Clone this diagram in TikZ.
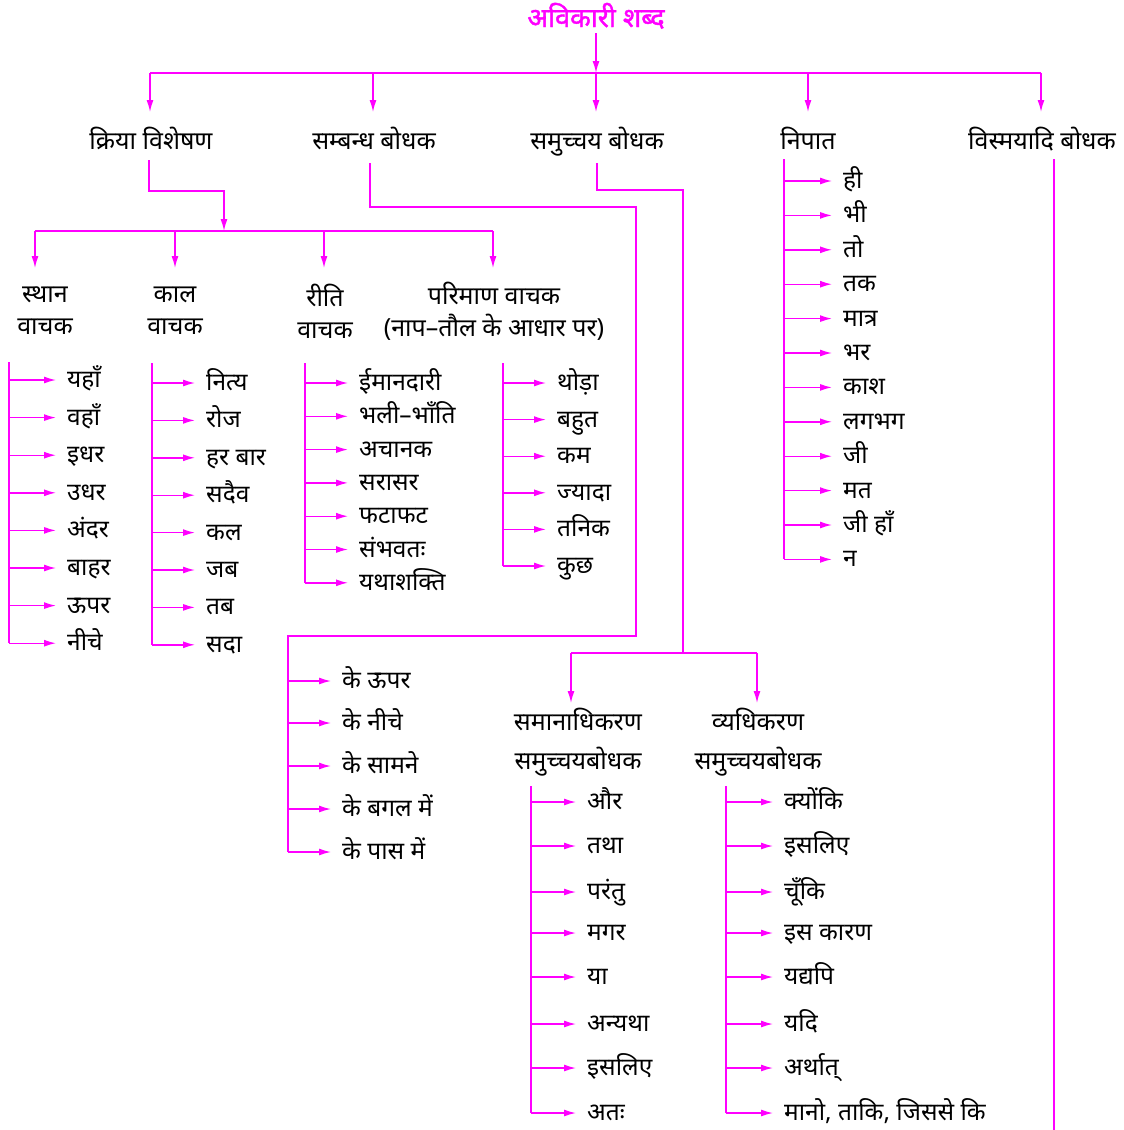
\documentclass[tikz,border=0pt]{standalone}
\usepackage{fontspec}
\setmainfont[Script=Devanagari]{Noto Sans}
\newfontfamily\titlefont[Script=Devanagari,FakeBold=1.5]{Noto Sans}
\usetikzlibrary{arrows.meta}
\definecolor{mag}{RGB}{255,0,255}
\begin{document}
\begin{tikzpicture}[x=1pt,y=-1pt,
 line/.style={draw=mag,line width=1.4pt},
 arr/.style={line,-{Latex[length=12pt,width=7pt]}},
 lbl2/.style={font=\fontsize{25}{32}\selectfont,inner sep=0pt,align=center},
 lbl/.style={lbl2,text height=19pt,text depth=6pt},
 item/.style={font=\fontsize{24.5}{28}\selectfont,anchor=west,inner xsep=0pt,inner ysep=0pt,text height=20pt,text depth=5pt},
 itarr/.style={arr,shorten >=11pt}]
\useasboundingbox (0,0) rectangle (1124,1130);
% title
\node[font=\fontsize{27}{30}\titlefont,text=mag,inner sep=0pt,text height=20pt,text depth=6pt] (title) at (596,20) {अविकारी शब्द};
% level 1
\node[lbl] (kv) at (151,143) {क्रिया विशेषण};
\node[lbl] (sb) at (374,143) {सम्बन्ध बोधक};
\node[lbl] (smb) at (597,143) {समुच्चय बोधक};
\node[lbl] (np) at (808,143) {निपात};
\node[lbl] (vb) at (1042,143) {विस्मयादि बोधक};
\coordinate (bar) at (596,73);
\draw[arr] ([yshift=-13pt]title.center) -- (title.center |- bar);
\draw[line] ([xshift=-1pt]kv.center |- bar) -- ([xshift=-1pt]vb.center |- bar);
\foreach \n/\dx in {kv/-1,sb/-1,smb/-1,np/0,vb/-1}
  \draw[arr] ([xshift=\dx pt]\n.center |- bar) -- ([xshift=\dx pt,yshift=31pt]\n.center);
% kriya visheshan
\coordinate (kvb) at (224,191);
\coordinate (bar2) at (224,231);
\draw[arr] ([xshift=-2pt,yshift=-17pt]kv.center) |- (kvb) -- (bar2);
\node[lbl2] (sthan) at (45,311) {स्थान\\वाचक};
\node[lbl2] (kal) at (175,311) {काल\\वाचक};
\node[lbl2] (riti) at (325,311) {रीति\\वाचक};
\node[lbl2] (pari) at (494,311) {परिमाण वाचक\\(नाप–तौल के आधार पर)};
\draw[line] ([xshift=-10pt]sthan.center |- bar2) -- ([xshift=-1pt]pari.center |- bar2);
\foreach \n/\dx in {sthan/-10,kal/0,riti/-1,pari/-1}
  \draw[arr] ([xshift=\dx pt]\n.center |- bar2) -- ([xshift=\dx pt,yshift=43pt]\n.center);
% sthan list
\coordinate (sv) at (9,362);
\foreach \t [count=\i] in {यहाँ,वहाँ,इधर,उधर,अंदर,बाहर,ऊपर,नीचे}{
  \node[item] (s\i) at (67,342.4+\i*37.6) {\t};
  \draw[itarr] (sv |- s\i.west) -- (s\i.west);}
\draw[line] (sv) -- (sv |- s8.west);
% kal list
\coordinate (kv0) at (152,363);
\foreach \t [count=\i] in {नित्य,रोज,हर बार,सदैव,कल,जब,तब,सदा}{
  \node[item] (k\i) at (206,345.6+\i*37.4) {\t};
  \draw[itarr] (kv0 |- k\i.west) -- (k\i.west);}
\draw[line] (kv0) -- (kv0 |- k8.west);
% riti list
\coordinate (rv) at (305,363);
\foreach \t [count=\i] in {ईमानदारी,भली–भाँति,अचानक,सरासर,फटाफट,संभवतः,यथाशक्ति}{
  \node[item] (r\i) at (359,349.7+\i*33.3) {\t};
  \draw[itarr] (rv |- r\i.west) -- (r\i.west);}
\draw[line] (rv) -- (rv |- r7.west);
% parimaan list
\coordinate (pv) at (503,363);
\foreach \t [count=\i] in {थोड़ा,बहुत,कम,ज्यादा,तनिक,कुछ}{
  \node[item] (p\i) at (557,346.4+\i*36.6) {\t};
  \draw[itarr] (pv |- p\i.west) -- (p\i.west);}
\draw[line] (pv) -- (pv |- p6.west);
% sambandh bodhak
\coordinate (sb1) at (370,207);
\coordinate (sb2) at (636,207);
\coordinate (sb3) at (636,636);
\coordinate (sb4) at (288,636);
\foreach \t/\y [count=\i] in {के ऊपर/681,के नीचे/723,के सामने/766,के बगल में/809,के पास में/852}{
  \node[item] (b\i) at (342,\y) {\t};
  \draw[itarr] (sb4 |- b\i.west) -- (b\i.west);}
\draw[line] ([xshift=-4pt,yshift=-20pt]sb.center) -- (sb1) -- (sb2) -- (sb3) -- (sb4) -- (sb4 |- b5.west);
% samuchchay bodhak
\coordinate (sm1) at (683,190);
\coordinate (bar3) at (683,653);
\node[lbl2,font=\fontsize{25}{39}\selectfont] (sama) at (578,742) {समानाधिकरण\\समुच्चयबोधक};
\node[lbl2,font=\fontsize{25}{39}\selectfont] (vya) at (758,742) {व्यधिकरण\\समुच्चयबोधक};
\draw[line] ([yshift=-20pt]smb.center) |- (sm1) -- (bar3);
\draw[line] ([xshift=-7pt]sama.center |- bar3) -- ([xshift=-1pt]vya.center |- bar3);
\draw[arr] ([xshift=-7pt]sama.center |- bar3) -- ([xshift=-7pt,yshift=39pt]sama.center);
\draw[arr] ([xshift=-1pt]vya.center |- bar3) -- ([xshift=-1pt,yshift=39pt]vya.center);
\coordinate (mv) at (531,786);
\foreach \t/\y [count=\i] in {और/802,तथा/846,परंतु/892,मगर/933,या/977,अन्यथा/1024,इसलिए/1068,अतः/1113}{
  \node[item] (m\i) at (587,\y) {\t};
  \draw[itarr] (mv |- m\i.west) -- (m\i.west);}
\draw[line] (mv) -- (mv |- m8.west);
\coordinate (yv) at (726,786);
\foreach \t/\y [count=\i] in {क्योंकि/802,इसलिए/846,चूँकि/892,इस कारण/933,यद्यपि/977,यदि/1024,अर्थात्/1068,{मानो, ताकि, जिससे कि}/1113}{
  \node[item] (y\i) at (784,\y) {\t};
  \draw[itarr] (yv |- y\i.west) -- (y\i.west);}
\draw[line] (yv) -- (yv |- y8.west);
% nipat
\coordinate (nv) at (784,159);
\foreach \t [count=\i] in {ही,भी,तो,तक,मात्र,भर,काश,लगभग,जी,मत,जी हाँ,न}{
  \node[item] (n\i) at (843,146.6+\i*34.4) {\t};
  \draw[itarr] (nv |- n\i.west) -- (n\i.west);}
\draw[line] (nv) -- (nv |- n12.west);
% vismayadi
\coordinate (vend) at (1054,1130);
\draw[line] ([xshift=12pt,yshift=-16pt]vb.center) -- (vend);
\end{tikzpicture}
\end{document}
